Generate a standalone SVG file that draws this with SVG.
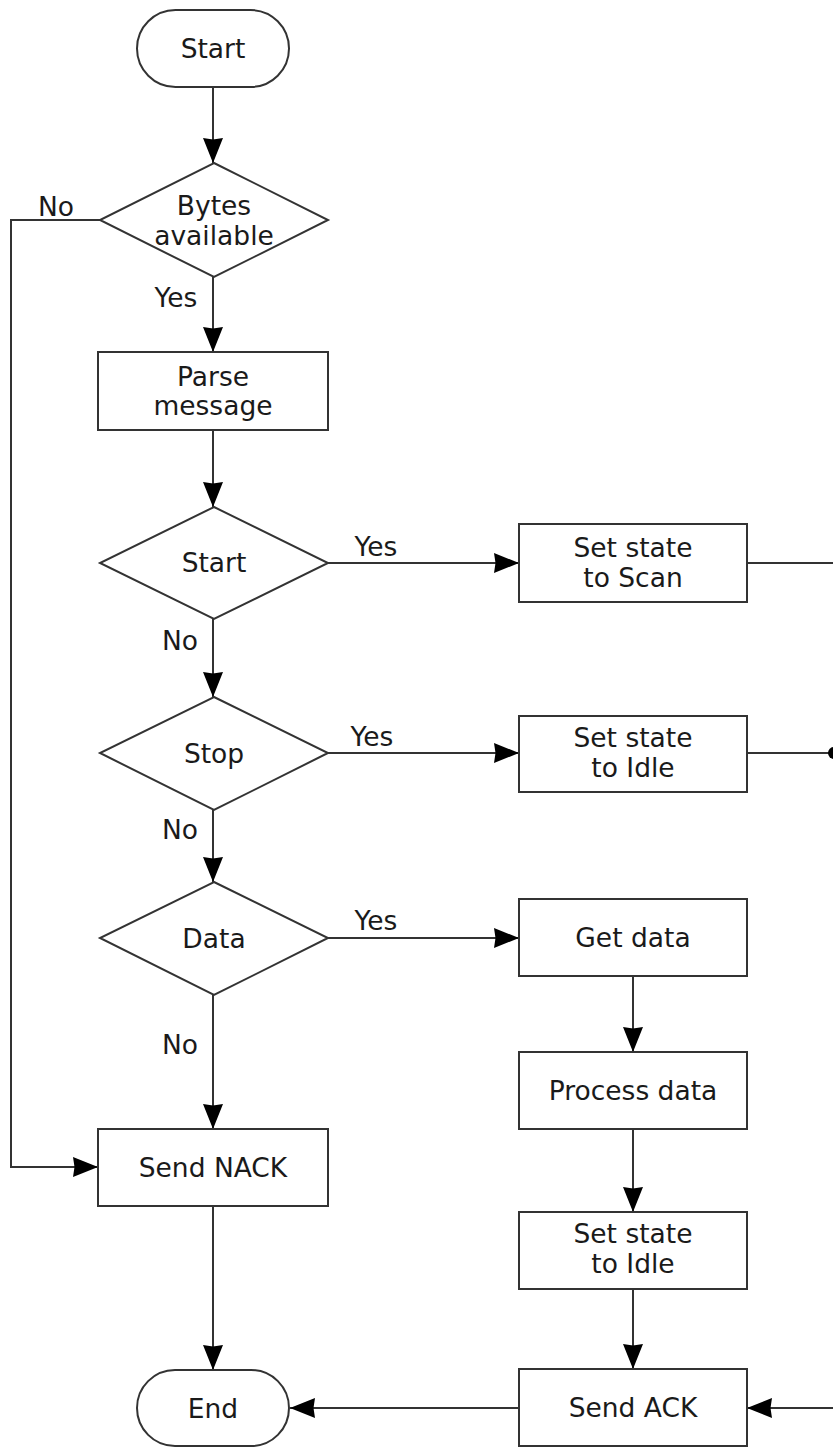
<svg xmlns="http://www.w3.org/2000/svg" width="833" height="1448" viewBox="0 0 833 1448">
  <style>
    .shape { fill: #ffffff; stroke: #333333; stroke-width: 2; }
    .edge { fill: none; stroke: #333333; stroke-width: 2; }
    .arrow { marker-end: url(#head); }
    text { font-family: "DejaVu Sans", Verdana, sans-serif; font-size: 26.5px; fill: #1a1a1a; text-anchor: middle; }
  </style>
  <defs>
    <marker id="head" viewBox="0 0 25 20" refX="25" refY="10" markerWidth="25" markerHeight="20" markerUnits="userSpaceOnUse" orient="auto">
      <path d="M0,0 L25,10 L0,20 L1.5,10 Z" fill="#000000"/>
    </marker>
  </defs>

  <rect width="833" height="1448" fill="#ffffff"/>

  <!-- connectors -->
  <g id="connectors">
    <path class="edge arrow" d="M213,87 V163"/>
    <path class="edge arrow" d="M100,220 H11 V1167 H98"/>
    <path class="edge arrow" d="M213,277 V352"/>
    <path class="edge arrow" d="M213,430 V507"/>
    <path class="edge arrow" d="M328,563 H519"/>
    <path class="edge" d="M747,563 H833"/>
    <path class="edge arrow" d="M213,619 V697"/>
    <path class="edge arrow" d="M328,753 H519"/>
    <path class="edge" d="M747,753 H833"/>
    <circle cx="834" cy="753" r="6" fill="#000000"/>
    <path class="edge arrow" d="M213,810 V882"/>
    <path class="edge arrow" d="M328,938 H519"/>
    <path class="edge arrow" d="M213,995 V1129"/>
    <path class="edge arrow" d="M633,976 V1052"/>
    <path class="edge arrow" d="M633,1129 V1212"/>
    <path class="edge arrow" d="M633,1289 V1369"/>
    <path class="edge arrow" d="M213,1206 V1370"/>
    <path class="edge arrow" d="M833,1408 H747"/>
    <path class="edge arrow" d="M519,1408 H290"/>

    <text x="56" y="216">No</text>
    <text x="176" y="307">Yes</text>
    <text x="376" y="556">Yes</text>
    <text x="180" y="650">No</text>
    <text x="372" y="746">Yes</text>
    <text x="180" y="839">No</text>
    <text x="376" y="930">Yes</text>
    <text x="180" y="1054">No</text>
  </g>

  <!-- nodes -->
  <g id="start">
    <rect class="shape" x="137" y="10" width="152" height="77" rx="38.5"/>
    <text x="213" y="58">Start</text>
  </g>

  <g id="bytes-available">
    <polygon class="shape" points="214,163 328,220 214,277 100,220"/>
    <text x="214" y="215">Bytes</text>
    <text x="214" y="245">available</text>
  </g>

  <g id="parse-message">
    <rect class="shape" x="98" y="352" width="230" height="78"/>
    <text x="213" y="386">Parse</text>
    <text x="213" y="415">message</text>
  </g>

  <g id="is-start">
    <polygon class="shape" points="214,507 328,563 214,619 100,563"/>
    <text x="214" y="572">Start</text>
  </g>

  <g id="set-scan">
    <rect class="shape" x="519" y="524" width="228" height="78"/>
    <text x="633" y="557">Set state</text>
    <text x="633" y="587">to Scan</text>
  </g>

  <g id="is-stop">
    <polygon class="shape" points="214,697 328,753 214,810 100,753"/>
    <text x="214" y="763">Stop</text>
  </g>

  <g id="set-idle-stop">
    <rect class="shape" x="519" y="716" width="228" height="76"/>
    <text x="633" y="747">Set state</text>
    <text x="633" y="777">to Idle</text>
  </g>

  <g id="is-data">
    <polygon class="shape" points="214,882 328,938 214,995 100,938"/>
    <text x="214" y="948">Data</text>
  </g>

  <g id="get-data">
    <rect class="shape" x="519" y="899" width="228" height="77"/>
    <text x="633" y="947">Get data</text>
  </g>

  <g id="process-data">
    <rect class="shape" x="519" y="1052" width="228" height="77"/>
    <text x="633" y="1100">Process data</text>
  </g>

  <g id="set-idle-data">
    <rect class="shape" x="519" y="1212" width="228" height="77"/>
    <text x="633" y="1243">Set state</text>
    <text x="633" y="1273">to Idle</text>
  </g>

  <g id="send-nack">
    <rect class="shape" x="98" y="1129" width="230" height="77"/>
    <text x="213" y="1177">Send NACK</text>
  </g>

  <g id="send-ack">
    <rect class="shape" x="519" y="1369" width="228" height="77"/>
    <text x="633" y="1417">Send ACK</text>
  </g>

  <g id="end">
    <rect class="shape" x="137" y="1370" width="152" height="76" rx="38"/>
    <text x="213" y="1418">End</text>
  </g>
</svg>
